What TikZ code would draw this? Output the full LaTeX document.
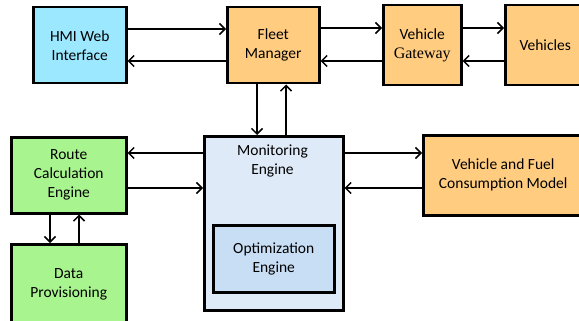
\documentclass[tikz,border=0pt]{standalone}
\usepackage{fontspec}
\setmainfont{Carlito}
\newfontfamily\gwserif{Liberation Serif}
\usetikzlibrary{arrows.meta}
\definecolor{cyanbox}{HTML}{9CE8FF}
\definecolor{orangebox}{HTML}{FFCC80}
\definecolor{greenbox}{HTML}{A8F590}
\definecolor{monbox}{HTML}{DEEAF8}
\definecolor{optbox}{HTML}{C8DEF4}
\begin{document}
\begin{tikzpicture}[x=1pt,y=-1pt,
  box/.style={draw=black, line width=2.5pt, anchor=north west, inner sep=0pt,
    align=center, font=\fontsize{15.5}{19}\selectfont},
  arr/.style={draw=black, line width=1.5pt, -{Straight Barb[length=5.5pt,width=11pt,line width=1.5pt]}},
]
\useasboundingbox (0,0) rectangle (579,321);
% top row
\node[box, fill=cyanbox, minimum width=93pt, minimum height=76pt] (hmi) at (32,6) {HMI Web\\Interface};
\node[box, fill=orangebox, minimum width=92pt, minimum height=76pt] (fm) at (226,6) {Fleet\\Manager};
\node[box, fill=orangebox, minimum width=78pt, minimum height=80pt] (vg) at (382,4) {Vehicle\\{\gwserif\fontsize{16}{19}\selectfont Gateway}};
\node[box, fill=orangebox, minimum width=80pt, minimum height=80pt] (veh) at (504,4) {Vehicles};
% middle
\node[box, fill=monbox, minimum width=139pt, minimum height=174pt] (mon) at (203,135) {};
\node[align=center, font=\fontsize{15.5}{19}\selectfont, anchor=north, inner sep=0pt] (montxt) at (272.5,145) {Monitoring\\Engine};
\node[box, fill=optbox, minimum width=121pt, minimum height=67pt] (opt) at (212,224) {Optimization\\Engine};
\node[box, fill=greenbox, minimum width=115pt, minimum height=76pt] (rce) at (10,136) {Route\\Calculation\\Engine};
\node[box, fill=greenbox, minimum width=115pt, minimum height=80pt] (dp) at (10,243) {Data\\Provisioning};
\node[box, fill=orangebox, minimum width=160pt, minimum height=80pt] (vfc) at (422,134) {Vehicle and Fuel\\Consumption Model};
% arrows top row
\draw[arr] (hmi.east |- 0,29) -- (fm.west |- 0,29);
\draw[arr] (fm.west |- 0,61) -- (hmi.east |- 0,61);
\draw[arr] (fm.east |- 0,28) -- (vg.west |- 0,28);
\draw[arr] (vg.west |- 0,61) -- (fm.east |- 0,61);
\draw[arr] (vg.east |- 0,28) -- (veh.west |- 0,28);
\draw[arr] (veh.west |- 0,61) -- (vg.east |- 0,61);
% fleet - monitoring
\draw[arr] (fm.south -| 257,0) -- (mon.north -| 257,0);
\draw[arr] (mon.north -| 286,0) -- (fm.south -| 286,0);
% monitoring - route
\draw[arr] (mon.west |- 0,153) -- (rce.east |- 0,153);
\draw[arr] (rce.east |- 0,188) -- (mon.west |- 0,188);
% monitoring - vfc
\draw[arr] (mon.east |- 0,153) -- (vfc.west |- 0,153);
\draw[arr] (vfc.west |- 0,188) -- (mon.east |- 0,188);
% route - data
\draw[arr] (rce.south -| 50,0) -- (dp.north -| 50,0);
\draw[arr] (dp.north -| 79,0) -- (rce.south -| 79,0);
\end{tikzpicture}
\end{document}
